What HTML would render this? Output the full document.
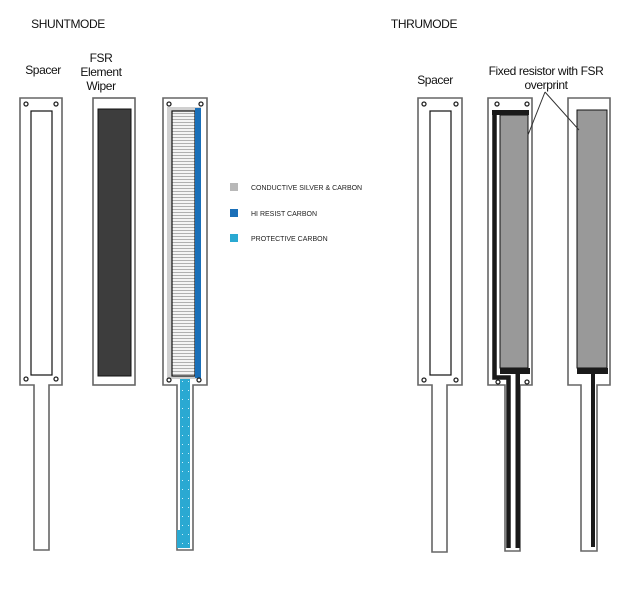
<!DOCTYPE html>
<html><head><meta charset="utf-8"><style>
html,body{margin:0;padding:0;background:#fff;}
svg{display:block;font-family:"Liberation Sans",sans-serif;}
</style></head><body>
<svg width="636" height="607" viewBox="0 0 636 607" xmlns="http://www.w3.org/2000/svg">
<defs>
<pattern id="lines" width="4" height="3" patternUnits="userSpaceOnUse">
<rect width="4" height="3" fill="#f4f4f4"/><rect y="2" width="4" height="1" fill="#b0b0b0"/>
</pattern>
<pattern id="dots" width="6" height="9" patternUnits="userSpaceOnUse">
<rect width="6" height="9" fill="#2aa9d2"/><rect x="2" y="3" width="1" height="1" fill="#cfeef8"/>
</pattern>
</defs>
<g font-size="12" fill="#111" text-anchor="middle" letter-spacing="-0.4">
<text x="68" y="28">SHUNTMODE</text>
<text x="43" y="74">Spacer</text>
<text x="101" y="62">FSR</text>
<text x="101" y="76">Element</text>
<text x="101" y="90">Wiper</text>
<text x="424" y="28">THRUMODE</text>
<text x="435" y="84">Spacer</text>
<text x="546" y="75">Fixed resistor with FSR</text>
<text x="546" y="89">overprint</text>
</g>
<g fill="#fff" stroke="#666" stroke-width="1.6">
<path d="M20 98H62V385H49V550H34V385H20Z"/>
<rect x="93" y="98" width="42" height="287"/>
<path d="M163 98H207V385H193V550H177V385H163Z"/>
<path d="M418 98H462V385H447V552H432V385H418Z"/>
<path d="M488 98H532V385H520V551H505V385H488Z"/>
<path d="M568 98H610V385H597V551H581V385H568Z"/>
</g>
<g fill="#fff" stroke="#111" stroke-width="1.2">
<rect x="31" y="111" width="21" height="264"/>
<rect x="430" y="111" width="21" height="264"/>
</g>
<rect x="98" y="109" width="33" height="267" fill="#3d3d3d" stroke="#111"/>
<!-- wiper -->
<rect x="167" y="107" width="34" height="272" fill="#d0d0d0"/>
<rect x="172" y="111" width="23" height="265" fill="url(#lines)" stroke="#111" stroke-width="1.2"/>
<rect x="195" y="108" width="6" height="270" fill="#1a6fb8"/>
<path d="M180 379H190V548H177V530H180Z" fill="url(#dots)"/>
<!-- thrumode middle -->
<rect x="500" y="115" width="28" height="253" fill="#999" stroke="#111"/>
<rect x="492" y="110" width="37" height="5" fill="#1a1a1a"/>
<path d="M494.5 112V377.5H508.5V548" fill="none" stroke="#1a1a1a" stroke-width="4.5"/>
<rect x="500" y="368" width="30" height="6" fill="#1a1a1a"/>
<rect x="515.5" y="372" width="4.5" height="176" fill="#1a1a1a"/>
<!-- thrumode right -->
<rect x="577" y="110" width="30" height="258" fill="#999" stroke="#111"/>
<rect x="577" y="368" width="31" height="6" fill="#1a1a1a"/>
<rect x="591" y="372" width="4" height="175" fill="#1a1a1a"/>
<!-- leaders -->
<path d="M545 92L528 135M545 92L579 130" stroke="#333" fill="none"/>
<!-- holes -->
<g fill="none" stroke="#222" stroke-width="1.3">
<circle cx="26" cy="104" r="2"/><circle cx="56" cy="104" r="2"/><circle cx="26" cy="379" r="2"/><circle cx="56" cy="379" r="2"/>
<circle cx="169" cy="104" r="2"/><circle cx="201" cy="104" r="2"/><circle cx="169" cy="380" r="2"/><circle cx="199" cy="380" r="2"/>
<circle cx="424" cy="104" r="2"/><circle cx="456" cy="104" r="2"/><circle cx="424" cy="380" r="2"/><circle cx="456" cy="380" r="2"/>
<circle cx="497" cy="104" r="2"/><circle cx="527" cy="104" r="2"/><circle cx="498" cy="382" r="2"/><circle cx="527" cy="382" r="2"/>
</g>
<!-- legend -->
<rect x="230" y="183" width="8" height="8" fill="#b8b8b8"/>
<rect x="230" y="209" width="8" height="8" fill="#1a6fb8"/>
<rect x="230" y="234" width="8" height="8" fill="#2aa9d2"/>
<g font-size="7" fill="#222">
<text x="251" y="190">CONDUCTIVE SILVER &amp; CARBON</text>
<text x="251" y="216">HI RESIST CARBON</text>
<text x="251" y="241">PROTECTIVE CARBON</text>
</g>
</svg>
</body></html>
